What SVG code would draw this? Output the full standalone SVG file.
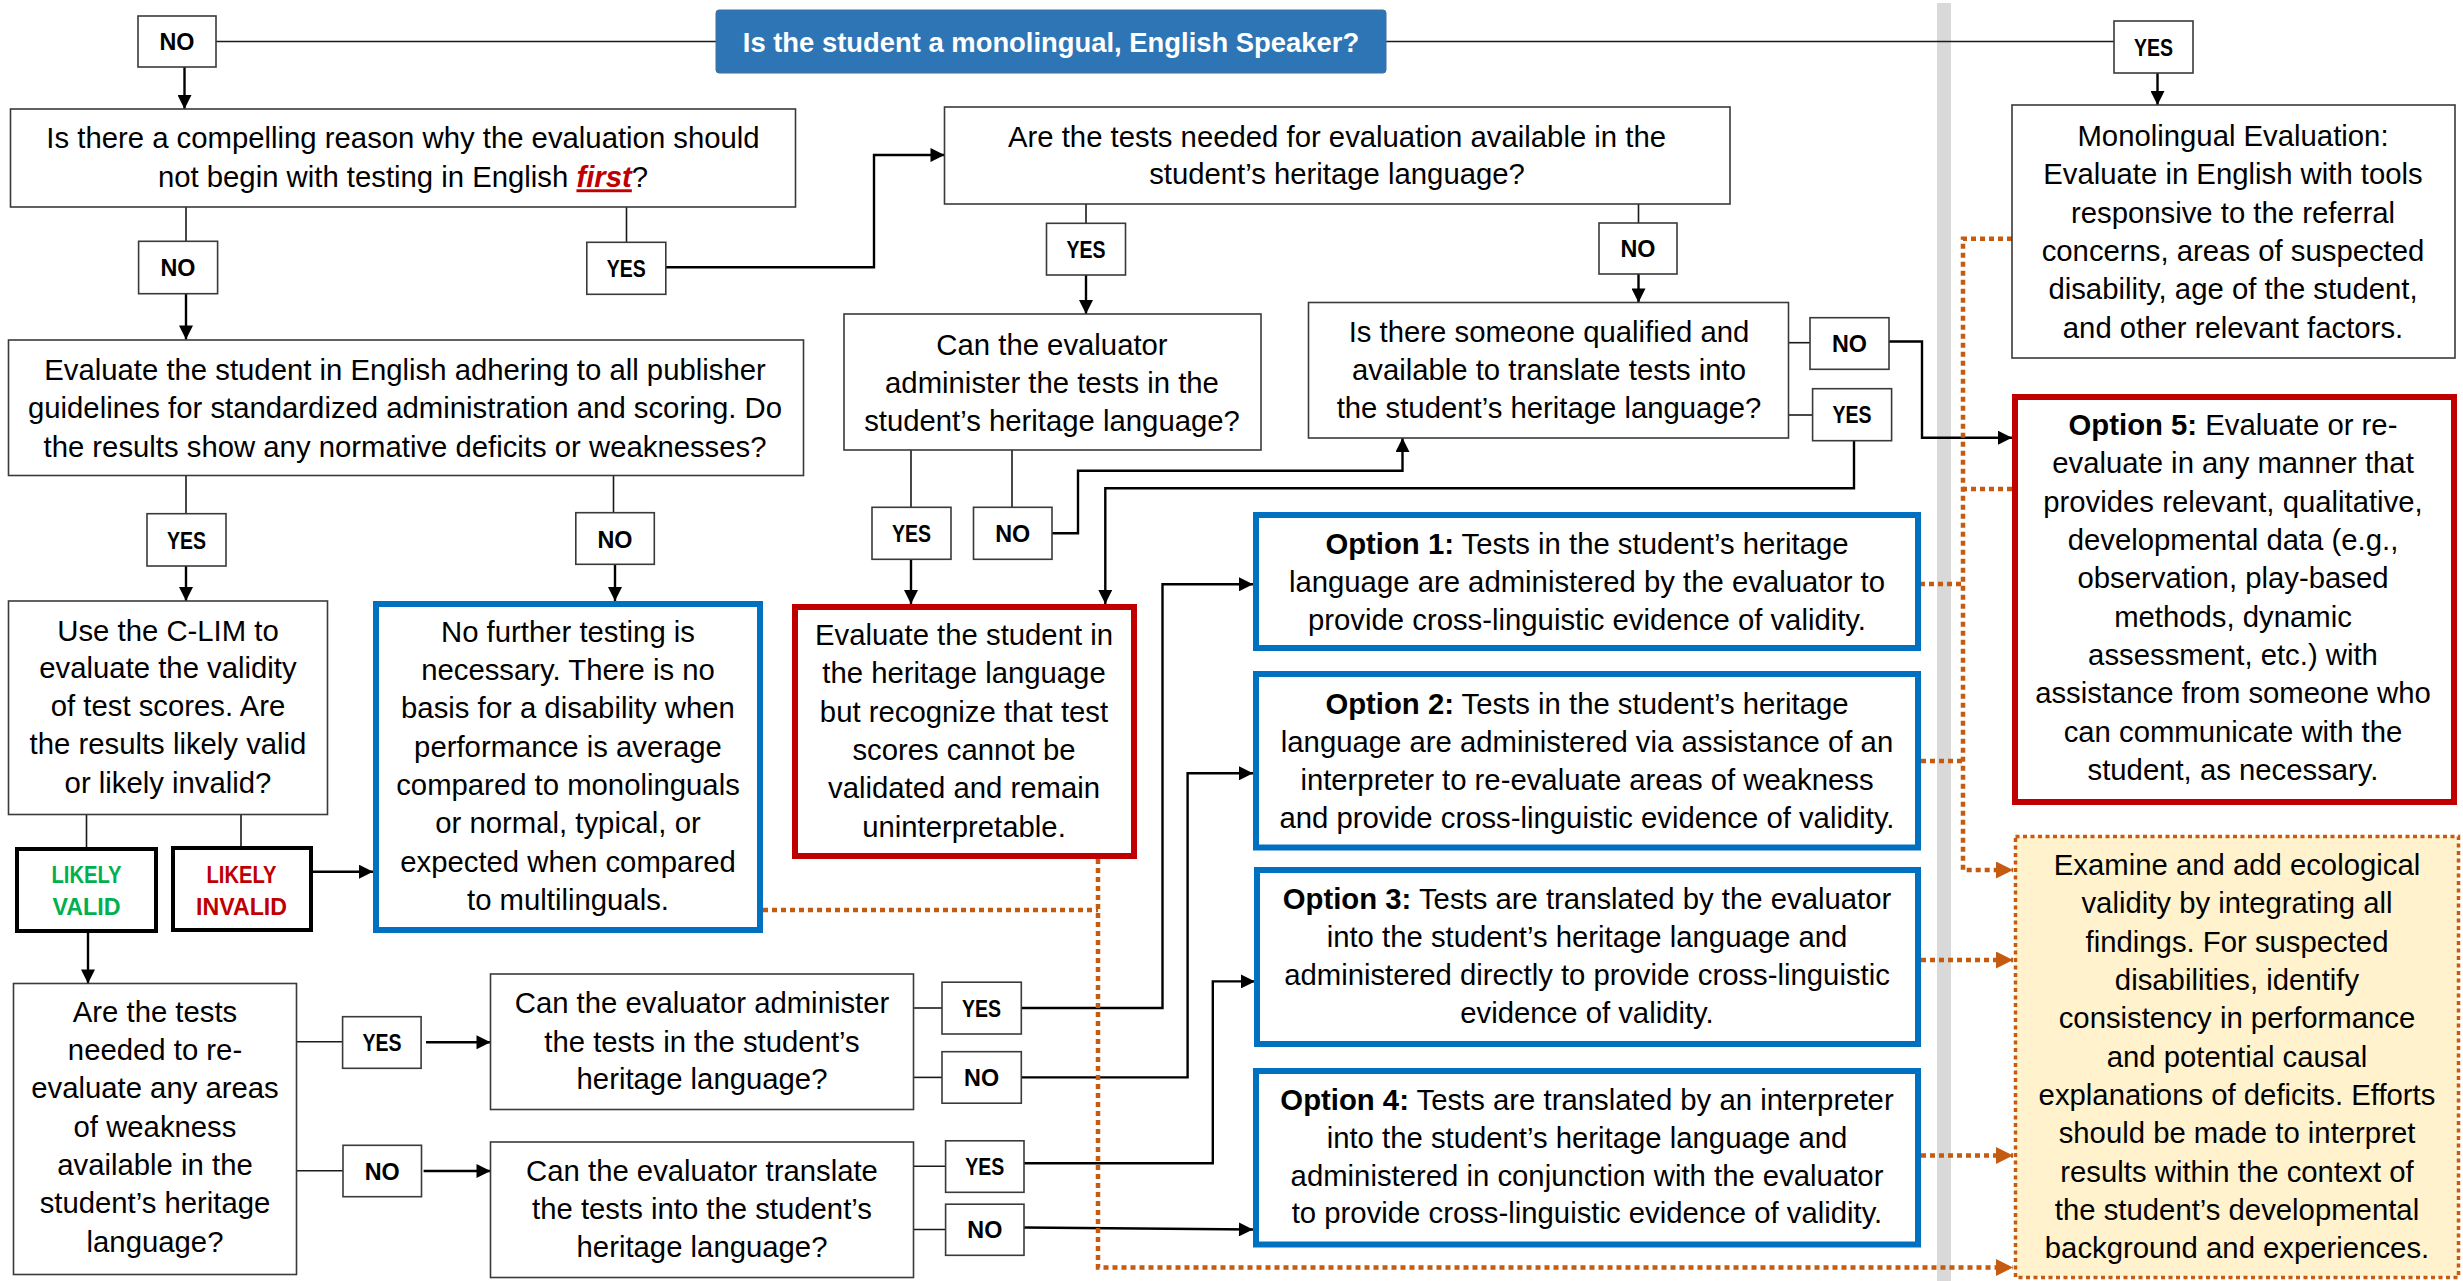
<svg xmlns="http://www.w3.org/2000/svg" width="2463" height="1281" viewBox="0 0 2463 1281">
  <style>
    .t { font-family: "Liberation Sans", Arial, sans-serif; font-size: 29.3px; fill: #000; text-anchor: middle; }
    .b { font-weight: bold; }
    .first { font-weight: bold; font-style: italic; fill: #C00000; text-decoration: underline; }
    .box { fill: #fff; stroke: #3a3a3a; stroke-width: 1.6; }
    .lbl { fill: #fff; stroke: #3a3a3a; stroke-width: 1.6; }
    .lt { font-family: "Liberation Sans", Arial, sans-serif; font-size: 23px; font-weight: bold; fill: #000; text-anchor: middle; }
    .blue { fill: #fff; stroke: #0070C0; stroke-width: 6; }
    .red { fill: #fff; stroke: #C00000; stroke-width: 6; }
    .verdict { fill: #fff; stroke: #000; stroke-width: 4; }
    .ln { fill: none; stroke: #1a1a1a; stroke-width: 1.6; }
    .ar { fill: none; stroke: #000; stroke-width: 2.4; marker-end: url(#ah); }
    .dot { fill: none; stroke: #C55A11; stroke-width: 4.5; stroke-dasharray: 5 4; }
    .dotar { fill: none; stroke: #C55A11; stroke-width: 4.5; stroke-dasharray: 5 4; marker-end: url(#oh); }
  </style>
  <defs>
    <marker id="ah" viewBox="0 0 10 10" refX="10" refY="5" markerUnits="userSpaceOnUse" markerWidth="15" markerHeight="14" orient="auto">
      <path d="M0,0 L10,5 L0,10 z" fill="#000"/>
    </marker>
    <marker id="oh" viewBox="0 0 10 10" refX="10" refY="5" markerUnits="userSpaceOnUse" markerWidth="19" markerHeight="17" orient="auto">
      <path d="M0,0 L10,5 L0,10 z" fill="#C55A11"/>
    </marker>
  </defs>

  <rect x="0" y="0" width="2463" height="1281" fill="#fff"/>
  <!-- divider between bilingual and monolingual paths -->
  <rect id="divider" x="1937" y="3" width="14" height="1278" fill="#D9D9D9"/>

  <g id="connectors">
    <path class="ln" d="M716,41.5 H216"/>
    <path class="ln" d="M1386,41.5 H2114"/>
    <path class="ar" d="M184.5,67 V109"/>
    <path class="ar" d="M2157.5,73 V105"/>
    <path class="ln" d="M186,207 V241.3"/>
    <path class="ln" d="M626.5,207 V242.3"/>
    <path class="ar" d="M186,294 V339.5"/>
    <path class="ar" d="M666,267.3 H874 V155 H944.5"/>
    <path class="ln" d="M1086,204 V223.3"/>
    <path class="ar" d="M1086,275 V314"/>
    <path class="ln" d="M1638.5,204 V223"/>
    <path class="ar" d="M1638.5,274 V302.5"/>
    <path class="ln" d="M911,450 V507.3"/>
    <path class="ln" d="M1012,450 V507.3"/>
    <path class="ar" d="M911,559.3 V604"/>
    <path class="ar" d="M1052,533.3 H1078 V470.7 H1402.5 V438"/>
    <path class="ln" d="M1788.5,342.7 H1810"/>
    <path class="ln" d="M1788.5,415 H1812.6"/>
    <path class="ar" d="M1889,341.5 H1922 V437.7 H2012"/>
    <path class="ar" d="M1854,440.7 V488.3 H1105.3 V604"/>
    <path class="ln" d="M186,475.5 V513.7"/>
    <path class="ar" d="M186,566 V601"/>
    <path class="ln" d="M613.5,475.5 V512.7"/>
    <path class="ar" d="M615,564.3 V601"/>
    <path class="ln" d="M86.5,814.5 V847"/>
    <path class="ln" d="M241,814.5 V846"/>
    <path class="ar" d="M313,871.7 H373"/>
    <path class="ar" d="M88,933 V983.5"/>
    <path class="ln" d="M296.5,1041.7 H342.6"/>
    <path class="ar" d="M426,1042.3 H490.5"/>
    <path class="ln" d="M296.5,1170.7 H343"/>
    <path class="ar" d="M423.6,1171 H490.5"/>
    <path class="ln" d="M913.5,1008 H942"/>
    <path class="ln" d="M913.5,1077.4 H942"/>
    <path class="ln" d="M913.5,1166.2 H945.6"/>
    <path class="ln" d="M913.5,1229.5 H945.6"/>
    <path class="ar" d="M1021.3,1008 H1162.5 V584.3 H1253"/>
    <path class="ar" d="M1021.3,1077.4 H1187.6 V773.3 H1253"/>
    <path class="ar" d="M1024,1163.3 H1212.8 V981.4 H1255"/>
    <path class="ar" d="M1024,1227.5 L1253,1229.5"/>

    <!-- dotted links into the ecological-validity step -->
    <path class="dotar" d="M2012,238.7 H1963 V870 H2013"/>
    <path class="dot" d="M2012,489 H1963"/>
    <path class="dot" d="M1920,584 H1963"/>
    <path class="dot" d="M1921,761 H1963"/>
    <path class="dotar" d="M1921,960 H2013"/>
    <path class="dotar" d="M1921,1155.5 H2013"/>
    <path class="dot" d="M763,910 H1098"/>
    <path class="dotar" d="M1098,859 V1267.5 H2013"/>
  </g>

  <g id="q-monolingual">
    <rect x="716" y="10" width="670" height="63" rx="3" fill="#2E75B6" stroke="#41719C" stroke-width="1"/>
    <text class="t b" x="1051" y="52" style="font-size:27.4px;fill:#fff">Is the student a monolingual, English Speaker?</text>
  </g>

  <g id="lbl-no-top"><rect class="lbl" x="138" y="16" width="78" height="51"/><text class="lt" x="177" y="50" textLength="35" lengthAdjust="spacingAndGlyphs">NO</text></g>
  <g id="lbl-yes-top"><rect class="lbl" x="2114" y="21" width="79" height="52"/><text class="lt" x="2153.5" y="55.5" textLength="39" lengthAdjust="spacingAndGlyphs">YES</text></g>

  <g id="q-reason">
    <rect class="box" x="10.5" y="109" width="785" height="98"/>
    <text class="t" x="403" y="148.3">Is there a compelling reason why the evaluation should</text>
    <text class="t" x="403" y="187.3">not begin with testing in English <tspan class="first">first</tspan>?</text>
  </g>
  <g id="lbl-no-reason"><rect class="lbl" x="138.6" y="241.3" width="79" height="52.4"/><text class="lt" x="178" y="276" textLength="35" lengthAdjust="spacingAndGlyphs">NO</text></g>
  <g id="lbl-yes-reason"><rect class="lbl" x="586.8" y="242.3" width="79" height="52"/><text class="lt" x="626.3" y="276.6" textLength="39" lengthAdjust="spacingAndGlyphs">YES</text></g>

  <g id="q-tests-available">
    <rect class="box" x="944.5" y="107" width="785.5" height="97"/>
    <text class="t" x="1337" y="146.7">Are the tests needed for evaluation available in the</text>
    <text class="t" x="1337" y="184.3">student’s heritage language?</text>
  </g>
  <g id="lbl-yes-avail"><rect class="lbl" x="1046.5" y="223.3" width="79" height="51.7"/><text class="lt" x="1086" y="257.5" textLength="39" lengthAdjust="spacingAndGlyphs">YES</text></g>
  <g id="lbl-no-avail"><rect class="lbl" x="1599" y="223" width="78" height="51"/><text class="lt" x="1638" y="257" textLength="35" lengthAdjust="spacingAndGlyphs">NO</text></g>

  <g id="q-evaluator-heritage">
    <rect class="box" x="844" y="314" width="417" height="136"/>
    <text class="t" x="1052" y="355">Can the evaluator</text>
    <text class="t" x="1052" y="393">administer the tests in the</text>
    <text class="t" x="1052" y="431">student’s heritage language?</text>
  </g>
  <g id="lbl-yes-eval"><rect class="lbl" x="872" y="507.3" width="79" height="52"/><text class="lt" x="911.5" y="542" textLength="39" lengthAdjust="spacingAndGlyphs">YES</text></g>
  <g id="lbl-no-eval"><rect class="lbl" x="973.5" y="507.3" width="78.5" height="52"/><text class="lt" x="1012.7" y="542" textLength="35" lengthAdjust="spacingAndGlyphs">NO</text></g>

  <g id="q-translator">
    <rect class="box" x="1308.5" y="302.5" width="480" height="135.5"/>
    <text class="t" x="1549" y="341.5">Is there someone qualified and</text>
    <text class="t" x="1549" y="379.5">available to translate tests into</text>
    <text class="t" x="1549" y="417.5">the student’s heritage language?</text>
  </g>
  <g id="lbl-no-trans"><rect class="lbl" x="1810" y="317.7" width="79" height="51.6"/><text class="lt" x="1849.5" y="352" textLength="35" lengthAdjust="spacingAndGlyphs">NO</text></g>
  <g id="lbl-yes-trans"><rect class="lbl" x="1812.6" y="388.7" width="79" height="52"/><text class="lt" x="1852" y="423" textLength="39" lengthAdjust="spacingAndGlyphs">YES</text></g>

  <g id="monolingual-eval">
    <rect class="box" x="2012" y="105" width="443" height="253"/>
    <text class="t" x="2233" y="145.7">Monolingual Evaluation:</text>
    <text class="t" x="2233" y="184">Evaluate in English with tools</text>
    <text class="t" x="2233" y="222.5">responsive to the referral</text>
    <text class="t" x="2233" y="261">concerns, areas of suspected</text>
    <text class="t" x="2233" y="299">disability, age of the student,</text>
    <text class="t" x="2233" y="337.5">and other relevant factors.</text>
  </g>

  <g id="evaluate-english">
    <rect class="box" x="8.5" y="340" width="795" height="135.5"/>
    <text class="t" x="405" y="380">Evaluate the student in English adhering to all publisher</text>
    <text class="t" x="405" y="418.3">guidelines for standardized administration and scoring. Do</text>
    <text class="t" x="405" y="456.7">the results show any normative deficits or weaknesses?</text>
  </g>
  <g id="lbl-yes-deficit"><rect class="lbl" x="147" y="513.7" width="79" height="52.3"/><text class="lt" x="186.5" y="548.5" textLength="39" lengthAdjust="spacingAndGlyphs">YES</text></g>
  <g id="lbl-no-deficit"><rect class="lbl" x="575.8" y="512.7" width="78.5" height="51.6"/><text class="lt" x="615" y="547.5" textLength="35" lengthAdjust="spacingAndGlyphs">NO</text></g>

  <g id="clim">
    <rect class="box" x="8.5" y="601" width="319" height="213.5"/>
    <text class="t" x="168" y="640.7">Use the C-LIM to</text>
    <text class="t" x="168" y="678.3">evaluate the validity</text>
    <text class="t" x="168" y="716">of test scores. Are</text>
    <text class="t" x="168" y="754.3">the results likely valid</text>
    <text class="t" x="168" y="792.7">or likely invalid?</text>
  </g>

  <g id="likely-valid">
    <rect class="verdict" x="17" y="849" width="139" height="82"/>
    <text class="lt" x="86.5" y="882.7" style="fill:#00B050" textLength="70" lengthAdjust="spacingAndGlyphs">LIKELY</text>
    <text class="lt" x="86.5" y="915" style="fill:#00B050" textLength="68" lengthAdjust="spacingAndGlyphs">VALID</text>
  </g>
  <g id="likely-invalid">
    <rect class="verdict" x="173" y="848" width="138" height="82"/>
    <text class="lt" x="241.5" y="882.5" style="fill:#C00000" textLength="70" lengthAdjust="spacingAndGlyphs">LIKELY</text>
    <text class="lt" x="241.5" y="914.5" style="fill:#C00000" textLength="91" lengthAdjust="spacingAndGlyphs">INVALID</text>
  </g>

  <g id="no-further-testing">
    <rect class="blue" x="376" y="604" width="384" height="326"/>
    <text class="t" x="568" y="641.7">No further testing is</text>
    <text class="t" x="568" y="680">necessary. There is no</text>
    <text class="t" x="568" y="718.3">basis for a disability when</text>
    <text class="t" x="568" y="756.7">performance is average</text>
    <text class="t" x="568" y="795">compared to monolinguals</text>
    <text class="t" x="568" y="833.3">or normal, typical, or</text>
    <text class="t" x="568" y="871.7">expected when compared</text>
    <text class="t" x="568" y="910">to multilinguals.</text>
  </g>

  <g id="heritage-uninterpretable">
    <rect class="red" x="795" y="607" width="339" height="249"/>
    <text class="t" x="964" y="645">Evaluate the student in</text>
    <text class="t" x="964" y="683.3">the heritage language</text>
    <text class="t" x="964" y="721.7">but recognize that test</text>
    <text class="t" x="964" y="760">scores cannot be</text>
    <text class="t" x="964" y="798.3">validated and remain</text>
    <text class="t" x="964" y="836.7">uninterpretable.</text>
  </g>

  <g id="q-reevaluate">
    <rect class="box" x="13.5" y="983.5" width="283" height="291"/>
    <text class="t" x="155" y="1021.7">Are the tests</text>
    <text class="t" x="155" y="1060">needed to re-</text>
    <text class="t" x="155" y="1098.3">evaluate any areas</text>
    <text class="t" x="155" y="1136.7">of weakness</text>
    <text class="t" x="155" y="1175">available in the</text>
    <text class="t" x="155" y="1213.3">student’s heritage</text>
    <text class="t" x="155" y="1251.7">language?</text>
  </g>
  <g id="lbl-yes-re"><rect class="lbl" x="342.6" y="1016.7" width="78.5" height="51.6"/><text class="lt" x="382" y="1051" textLength="39" lengthAdjust="spacingAndGlyphs">YES</text></g>
  <g id="lbl-no-re"><rect class="lbl" x="343" y="1145.3" width="78.5" height="51.4"/><text class="lt" x="382.2" y="1179.5" textLength="35" lengthAdjust="spacingAndGlyphs">NO</text></g>

  <g id="q-administer">
    <rect class="box" x="490.5" y="974" width="423" height="135.5"/>
    <text class="t" x="702" y="1013.3">Can the evaluator administer</text>
    <text class="t" x="702" y="1051.7">the tests in the student’s</text>
    <text class="t" x="702" y="1089.3">heritage language?</text>
  </g>
  <g id="q-translate">
    <rect class="box" x="490.5" y="1142" width="423" height="135.5"/>
    <text class="t" x="702" y="1180.7">Can the evaluator translate</text>
    <text class="t" x="702" y="1219">the tests into the student’s</text>
    <text class="t" x="702" y="1256.7">heritage language?</text>
  </g>
  <g id="lbl-yes-adm"><rect class="lbl" x="942" y="982.2" width="79.3" height="51.8"/><text class="lt" x="981.6" y="1016.6" textLength="39" lengthAdjust="spacingAndGlyphs">YES</text></g>
  <g id="lbl-no-adm"><rect class="lbl" x="942" y="1051.7" width="79.3" height="51.5"/><text class="lt" x="981.6" y="1086" textLength="35" lengthAdjust="spacingAndGlyphs">NO</text></g>
  <g id="lbl-yes-tr"><rect class="lbl" x="945.6" y="1140.8" width="78.4" height="51.5"/><text class="lt" x="984.8" y="1175" textLength="39" lengthAdjust="spacingAndGlyphs">YES</text></g>
  <g id="lbl-no-tr"><rect class="lbl" x="945.6" y="1204.2" width="78.4" height="51.1"/><text class="lt" x="984.8" y="1238.3" textLength="35" lengthAdjust="spacingAndGlyphs">NO</text></g>

  <g id="option-1">
    <rect class="blue" x="1256" y="515" width="662" height="133"/>
    <text class="t" x="1587" y="554"><tspan class="b">Option 1:</tspan> Tests in the student’s heritage</text>
    <text class="t" x="1587" y="592">language are administered by the evaluator to</text>
    <text class="t" x="1587" y="630">provide cross-linguistic evidence of validity.</text>
  </g>
  <g id="option-2">
    <rect class="blue" x="1256" y="674" width="662" height="173.5"/>
    <text class="t" x="1587" y="713.5"><tspan class="b">Option 2:</tspan> Tests in the student’s heritage</text>
    <text class="t" x="1587" y="751.5">language are administered via assistance of an</text>
    <text class="t" x="1587" y="789.5">interpreter to re-evaluate areas of weakness</text>
    <text class="t" x="1587" y="827.5">and provide cross-linguistic evidence of validity.</text>
  </g>
  <g id="option-3">
    <rect class="blue" x="1257" y="870" width="661" height="174"/>
    <text class="t" x="1587" y="909"><tspan class="b">Option 3:</tspan> Tests are translated by the evaluator</text>
    <text class="t" x="1587" y="947">into the student’s heritage language and</text>
    <text class="t" x="1587" y="985">administered directly to provide cross-linguistic</text>
    <text class="t" x="1587" y="1023">evidence of validity.</text>
  </g>
  <g id="option-4">
    <rect class="blue" x="1256" y="1071" width="662" height="173.5"/>
    <text class="t" x="1587" y="1109.5"><tspan class="b">Option 4:</tspan> Tests are translated by an interpreter</text>
    <text class="t" x="1587" y="1147.5">into the student’s heritage language and</text>
    <text class="t" x="1587" y="1185.5">administered in conjunction with the evaluator</text>
    <text class="t" x="1587" y="1223">to provide cross-linguistic evidence of validity.</text>
  </g>
  <g id="option-5">
    <rect class="red" x="2015" y="397" width="439" height="405"/>
    <text class="t" x="2233" y="435"><tspan class="b">Option 5:</tspan> Evaluate or re-</text>
    <text class="t" x="2233" y="473.3">evaluate in any manner that</text>
    <text class="t" x="2233" y="511.7">provides relevant, qualitative,</text>
    <text class="t" x="2233" y="550">developmental data (e.g.,</text>
    <text class="t" x="2233" y="588.3">observation, play-based</text>
    <text class="t" x="2233" y="626.7">methods, dynamic</text>
    <text class="t" x="2233" y="665">assessment, etc.) with</text>
    <text class="t" x="2233" y="703.3">assistance from someone who</text>
    <text class="t" x="2233" y="741.7">can communicate with the</text>
    <text class="t" x="2233" y="780">student, as necessary.</text>
  </g>

  <g id="ecological-validity">
    <rect x="2015.5" y="836.5" width="443" height="441" fill="#FFF2CC" stroke="#C55A11" stroke-width="3.5" stroke-dasharray="4 3.5"/>
    <text class="t" x="2237" y="875">Examine and add ecological</text>
    <text class="t" x="2237" y="913.3">validity by integrating all</text>
    <text class="t" x="2237" y="951.7">findings. For suspected</text>
    <text class="t" x="2237" y="990">disabilities, identify</text>
    <text class="t" x="2237" y="1028.3">consistency in performance</text>
    <text class="t" x="2237" y="1066.7">and potential causal</text>
    <text class="t" x="2237" y="1105">explanations of deficits. Efforts</text>
    <text class="t" x="2237" y="1143.3">should be made to interpret</text>
    <text class="t" x="2237" y="1181.7">results within the context of</text>
    <text class="t" x="2237" y="1220">the student’s developmental</text>
    <text class="t" x="2237" y="1258.3">background and experiences.</text>
  </g>
</svg>
